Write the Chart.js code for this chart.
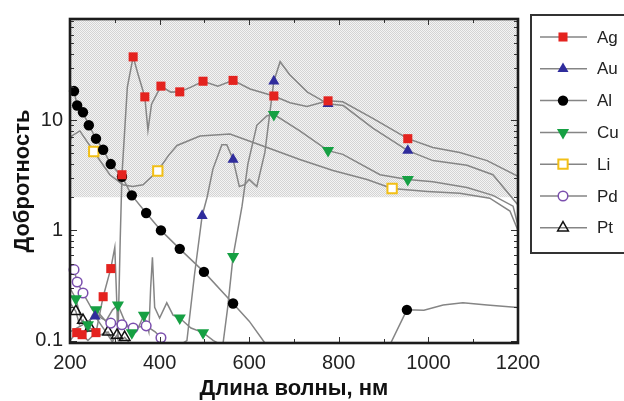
<!DOCTYPE html>
<html>
<head>
<meta charset="utf-8">
<script src="https://cdn.jsdelivr.net/npm/chart.js@4.4.1/dist/chart.umd.min.js"></script>
<style>
  html, body { margin: 0; padding: 0; background: #fff; }
  #wrap { width: 624px; height: 401px; }
</style>
</head>
<body>
<div id="wrap"><canvas id="qChart" width="624" height="401"></canvas></div>
<script>
// wavelength (nm) and quality factor
const agCurveNm = [200, 215, 227, 240, 258, 274, 291, 300, 304, 307, 312, 316, 328, 341, 352, 367, 374, 382, 403, 425, 445, 470, 497, 530, 564, 602, 655, 691, 729, 776, 809, 876, 954, 1010, 1070, 1131, 1200];
const agCurveQ = [0.1, 0.118, 0.113, 0.1, 0.118, 0.25, 0.45, 0.7, 0.25, 0.1, 0.8, 3.2, 20, 37.6, 26, 16.3, 8.1, 14, 20.4, 18, 18.1, 20, 22.6, 20.4, 23, 19.2, 16.6, 14.4, 13.3, 15, 14.7, 10.4, 6.8, 5.65, 5.1, 4.3, 3.1];
const agMarkNm = [215, 227, 258, 274, 291, 316, 341, 367, 403, 445, 497, 564, 655, 776, 954];
const agMarkQ = [0.118, 0.113, 0.118, 0.25, 0.45, 3.2, 37.6, 16.3, 20.4, 18.1, 22.6, 23, 16.6, 15, 6.8];

const auCurveNm = [200, 230, 256, 280, 300, 350, 400, 461, 478, 495, 506, 519, 539, 550, 564, 578, 590, 600, 608, 617, 635, 655, 669, 690, 730, 776, 810, 876, 954, 1010, 1086, 1144, 1200];
const auCurveQ = [0.12, 0.14, 0.166, 0.12, 0.09, 0.07, 0.07, 0.1, 0.4, 1.36, 2, 3.6, 6, 6, 4.4, 2.5, 2.6, 2.9, 2.7, 2.5, 5.1, 22.6, 34, 26, 18, 14.1, 13.6, 8.5, 5.3, 4.3, 3.9, 3.2, 1.7];
const auMarkNm = [256, 495, 564, 655, 776, 954];
const auMarkQ = [0.166, 1.36, 4.4, 22.6, 14.1, 5.3];

const alCurveNm = [200, 209, 216, 229, 242, 258, 274, 291, 316, 338, 370, 403, 445, 499, 564, 600, 635, 660, 900, 916, 952, 990, 1033, 1077, 1131, 1200];
const alCurveQ = [21, 18.4, 13.6, 11.8, 9.0, 6.8, 5.4, 4.0, 3.07, 2.08, 1.44, 1.0, 0.68, 0.42, 0.217, 0.15, 0.095, 0.07, 0.07, 0.095, 0.19, 0.188, 0.21, 0.22, 0.21, 0.2];
const alMarkNm = [209, 216, 229, 242, 258, 274, 291, 316, 338, 370, 403, 445, 499, 564, 952];
const alMarkQ = [18.4, 13.6, 11.8, 9.0, 6.8, 5.4, 4.0, 3.07, 2.08, 1.44, 1.0, 0.68, 0.42, 0.217, 0.19];

const cuCurveNm = [200, 213, 226, 240, 250, 258, 280, 295, 307, 322, 338, 352, 365, 376, 380, 384, 389, 400, 416, 430, 445, 470, 497, 520, 541, 552, 564, 584, 597, 617, 640, 655, 713, 776, 809, 892, 954, 1010, 1086, 1144, 1189, 1200];
const cuCurveQ = [0.3, 0.24, 0.15, 0.139, 0.17, 0.19, 0.15, 0.19, 0.21, 0.15, 0.118, 0.13, 0.17, 0.12, 0.3, 0.57, 0.2, 0.16, 0.22, 0.17, 0.16, 0.13, 0.118, 0.1, 0.09, 0.2, 0.58, 1.66, 4.0, 9, 11, 11.3, 8, 5.3, 4.9, 3.2, 2.9, 2.77, 2.45, 2.08, 1.66, 1.1];
const cuMarkNm = [213, 240, 258, 307, 338, 365, 445, 497, 564, 655, 776, 954];
const cuMarkQ = [0.24, 0.139, 0.19, 0.21, 0.118, 0.17, 0.16, 0.118, 0.58, 11.3, 5.3, 2.9];

const liCurveNm = [200, 204, 222, 253, 289, 318, 340, 363, 396, 420, 439, 490, 557, 640, 713, 787, 863, 919, 998, 1070, 1137, 1182, 1200];
const liCurveQ = [6.5, 7.2, 8.0, 5.2, 3.2, 2.6, 2.5, 2.6, 3.46, 4.8, 5.9, 7.2, 7.5, 5.65, 4.4, 3.5, 2.9, 2.4, 2.26, 2.17, 1.96, 1.5, 1.0];
const liMarkNm = [253, 396, 919];
const liMarkQ = [5.2, 3.46, 2.4];

const pdCurveNm = [200, 209, 216, 229, 250, 270, 291, 316, 341, 370, 390, 403, 420];
const pdCurveQ = [0.5, 0.44, 0.34, 0.27, 0.19, 0.16, 0.144, 0.139, 0.13, 0.136, 0.12, 0.106, 0.085];
const pdMarkNm = [209, 216, 229, 291, 316, 341, 370, 403];
const pdMarkQ = [0.44, 0.34, 0.27, 0.144, 0.139, 0.13, 0.136, 0.106];

const ptCurveNm = [200, 213, 221, 229, 238, 245, 262, 285, 296, 305, 314, 322, 333, 345];
const ptCurveQ = [0.22, 0.184, 0.14, 0.153, 0.12, 0.13, 0.11, 0.12, 0.1, 0.112, 0.1, 0.107, 0.095, 0.085];
const ptMarkNm = [213, 229, 245, 285, 305, 322];
const ptMarkQ = [0.184, 0.153, 0.13, 0.12, 0.112, 0.107];

const xTicks = [200, 400, 600, 800, 1000, 1200];
const yLabelTicks = [0.1, 1, 10];
const shadeFrom = 2;

const curveColor = "#858585";
const fontFamily = "'Liberation Sans', Arial, Helvetica, sans-serif";

const metals = [
  { name: "Ag", nm: agCurveNm, q: agCurveQ, mNm: agMarkNm, mQ: agMarkQ, style: "rect", rot: 0, r: 6.4, fill: "#e4231f", stroke: "#e4231f", bw: 0 },
  { name: "Au", nm: auCurveNm, q: auCurveQ, mNm: auMarkNm, mQ: auMarkQ, style: "triangle", rot: 0, r: 6.4, fill: "#2f2c9c", stroke: "#2f2c9c", bw: 0 },
  { name: "Al", nm: alCurveNm, q: alCurveQ, mNm: alMarkNm, mQ: alMarkQ, style: "circle", rot: 0, r: 5.2, fill: "#000", stroke: "#000", bw: 0 },
  { name: "Cu", nm: cuCurveNm, q: cuCurveQ, mNm: cuMarkNm, mQ: cuMarkQ, style: "triangle", rot: 180, r: 7, fill: "#16a043", stroke: "#16a043", bw: 0 },
  { name: "Li", nm: liCurveNm, q: liCurveQ, mNm: liMarkNm, mQ: liMarkQ, style: "rect", rot: 0, r: 6.6, fill: "#fff", stroke: "#f2bf16", bw: 2 },
  { name: "Pd", nm: pdCurveNm, q: pdCurveQ, mNm: pdMarkNm, mQ: pdMarkQ, style: "circle", rot: 0, r: 4.8, fill: "#fff", stroke: "#7b4fae", bw: 1.5 },
  { name: "Pt", nm: ptCurveNm, q: ptCurveQ, mNm: ptMarkNm, mQ: ptMarkQ, style: "triangle", rot: 0, r: 6.2, fill: "rgba(0,0,0,0)", stroke: "#111", bw: 1.5 }
];

const toPts = (xs, ys) => xs.map((x, i) => ({ x: x, y: ys[i] }));

const datasets = [];
metals.forEach(m => {
  datasets.push({
    label: m.name + " curve",
    data: toPts(m.nm, m.q),
    borderColor: curveColor,
    borderWidth: 1.5,
    pointRadius: 0,
    fill: false,
    tension: 0,
    clip: 0,
    order: 2
  });
});
metals.forEach(m => {
  datasets.push({
    label: m.name,
    data: toPts(m.mNm, m.mQ),
    showLine: false,
    pointStyle: m.style,
    rotation: m.rot,
    pointRadius: m.r,
    pointBackgroundColor: m.fill,
    pointBorderColor: m.stroke,
    pointBorderWidth: m.bw,
    clip: 3,
    order: 1
  });
});

function makeHatch() {
  const c = document.createElement("canvas");
  c.width = 4; c.height = 4;
  const g = c.getContext("2d");
  g.fillStyle = "#f4f4f4";
  g.fillRect(0, 0, 4, 4);
  g.fillStyle = "#d4d4d4";
  for (let y = 0; y < 4; y++) {
    for (let x = 0; x < 4; x++) {
      if ((x + y) % 2 === 0) g.fillRect(x, y, 1, 1);
    }
  }
  return c;
}

const shadePlugin = {
  id: "shade",
  beforeDatasetsDraw(chart) {
    const { ctx, chartArea, scales } = chart;
    const yTop = chartArea.top;
    const yBot = scales.y.getPixelForValue(shadeFrom);
    ctx.save();
    ctx.fillStyle = ctx.createPattern(makeHatch(), "repeat");
    ctx.fillRect(chartArea.left, yTop, chartArea.right - chartArea.left, yBot - yTop);
    ctx.restore();
  }
};

const framePlugin = {
  id: "frame",
  afterDatasetsDraw(chart) {
    const { ctx, chartArea: a, scales } = chart;
    ctx.save();
    ctx.strokeStyle = "#333";
    ctx.lineWidth = 1;
    ctx.beginPath();
    // x ticks, inward, bottom and top
    for (let v = 200; v <= 1200; v += 100) {
      const px = Math.round(scales.x.getPixelForValue(v)) + 0.5;
      const len = v % 200 === 0 ? 6 : 4;
      ctx.moveTo(px, a.bottom); ctx.lineTo(px, a.bottom - len);
      ctx.moveTo(px, a.top); ctx.lineTo(px, a.top + len);
    }
    // y ticks, log, inward, left and right
    for (let d = 0.01; d <= 100; d *= 10) {
      for (let k = 1; k <= 9; k++) {
        const v = k * d;
        if (v < scales.y.min || v > scales.y.max) continue;
        const py = Math.round(scales.y.getPixelForValue(v)) + 0.5;
        const len = k === 1 ? 7 : 4;
        ctx.moveTo(a.left, py); ctx.lineTo(a.left + len, py);
        ctx.moveTo(a.right, py); ctx.lineTo(a.right - len, py);
      }
    }
    ctx.stroke();
    ctx.strokeStyle = "#1c1c1c";
    ctx.lineWidth = 2.6;
    ctx.strokeRect(a.left, a.top, a.right - a.left, a.bottom - a.top);
    ctx.restore();
  }
};

const legendPlugin = {
  id: "sideLegend",
  afterDraw(chart) {
    const ctx = chart.ctx;
    ctx.save();
    ctx.strokeStyle = "#333";
    ctx.lineWidth = 2;
    ctx.strokeRect(531, 15, 100, 238);
    metals.forEach((m, i) => {
      const y = 37 + i * 31.8;
      ctx.strokeStyle = curveColor;
      ctx.lineWidth = 1.5;
      ctx.beginPath();
      ctx.moveTo(540, y);
      ctx.lineTo(587, y);
      ctx.stroke();
      ctx.fillStyle = m.fill;
      ctx.strokeStyle = m.stroke;
      ctx.lineWidth = m.bw;
      Chart.helpers.drawPoint(ctx, { pointStyle: m.style, rotation: m.rot, radius: m.r, borderWidth: m.bw }, 563, y);
      ctx.fillStyle = "#222";
      ctx.font = "17px " + fontFamily;
      ctx.textBaseline = "middle";
      ctx.textAlign = "left";
      ctx.fillText(m.name, 597, y + 1);
    });
    ctx.restore();
  }
};

const isLabelTick = v => yLabelTicks.some(t => Math.abs(Math.log10(v) - Math.log10(t)) < 1e-6);

new Chart(document.getElementById("qChart").getContext("2d"), {
  type: "line",
  data: { datasets: datasets },
  options: {
    responsive: false,
    devicePixelRatio: 1,
    animation: false,
    layout: { padding: { top: 13, right: 106, left: 0, bottom: 0 } },
    plugins: { legend: { display: false }, tooltip: { enabled: false } },
    scales: {
      x: {
        type: "linear",
        min: 200,
        max: 1200,
        afterBuildTicks: s => { s.ticks = xTicks.map(v => ({ value: v })); },
        afterFit: s => { s.height = 58; },
        grid: { display: false, drawTicks: false },
        border: { display: false },
        ticks: { color: "#222", font: { size: 20, family: fontFamily }, padding: 8, maxRotation: 0, callback: v => String(v) },
        title: { display: true, text: "Длина волны, нм", color: "#111", font: { size: 22, weight: "bold", family: fontFamily, lineHeight: 1.1 }, padding: { top: 0, bottom: 0 } }
      },
      y: {
        type: "logarithmic",
        min: 0.095,
        max: 83,
        afterBuildTicks: s => { s.ticks = yLabelTicks.map(v => ({ value: v })); },
        afterFit: s => { s.width = 70; },
        grid: { display: false, drawTicks: false },
        border: { display: false },
        ticks: {
          color: "#222",
          font: { size: 20, family: fontFamily },
          padding: 7,
          autoSkip: false,
          callback: v => (isLabelTick(v) ? (v >= 1 ? String(Math.round(v)) : "0.1") : "")
        },
        title: { display: true, text: "Добротность", color: "#111", font: { size: 22, weight: "bold", family: fontFamily, lineHeight: 1.1 }, padding: { top: 11, bottom: 0 } }
      }
    }
  },
  plugins: [shadePlugin, framePlugin, legendPlugin]
});
</script>
</body>
</html>
